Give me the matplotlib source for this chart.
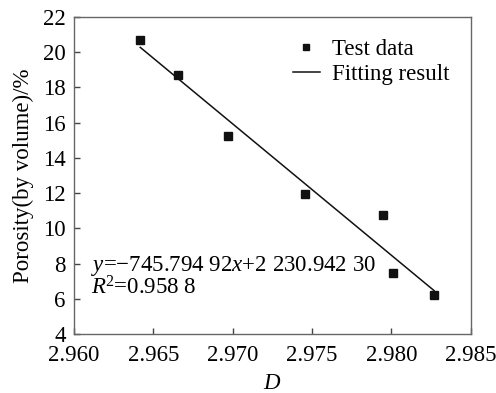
import matplotlib
matplotlib.use("Agg")
import matplotlib.pyplot as plt
import numpy as np

plt.rcParams['font.family'] = ['Liberation Serif', 'DejaVu Serif']
plt.rcParams['mathtext.fontset'] = 'custom'
plt.rcParams['mathtext.rm'] = 'Liberation Serif'
plt.rcParams['mathtext.it'] = 'Liberation Serif:italic'

# data
D_values = [2.96418, 2.96657, 2.96972, 2.97455, 2.97948, 2.98011, 2.98269]
porosity = [20.69, 18.71, 15.24, 11.93, 10.78, 7.48, 6.21]
slope = -745.79492
intercept = 2230.94230
fit_range = [2.96418, 2.98269]
x_ticks = [2.960, 2.965, 2.970, 2.975, 2.980, 2.985]
y_ticks = [4, 6, 8, 10, 12, 14, 16, 18, 20, 22]

FS = 16.5
fig = plt.figure(figsize=(4.96, 3.93), dpi=100)
ax = fig.add_axes([0.149, 0.150, 0.800, 0.807])

ax.plot(D_values, porosity, 's', color='#111111', markersize=6, label='Test data', zorder=3)
xf = np.array(fit_range)
ax.plot(xf, slope * xf + intercept, '-', color='#111111', lw=1.1, label='Fitting result')

ax.set_xlim(2.960, 2.985)
ax.set_ylim(4, 22)
ax.set_xticks(x_ticks)
ax.set_xticklabels([f"{t:.3f}" for t in x_ticks])
ax.set_yticks(y_ticks)
ax.tick_params(direction='in', length=4.3, labelsize=FS, color='#444444', width=1)
ax.tick_params(axis='x', pad=8)
ax.tick_params(axis='y', pad=6)
for s in ax.spines.values():
    s.set_color('#666666')
    s.set_linewidth(1.0)

ax.set_xlabel('$D$', fontsize=FS, labelpad=5)
ax.set_ylabel('Porosity(by volume)/%', fontsize=FS, labelpad=6)

leg = ax.legend(loc='upper right', bbox_to_anchor=(0.98, 0.975), frameon=False,
                fontsize=FS, handlelength=1.2, handletextpad=0.5, labelspacing=0.2,
                borderaxespad=0.2, markerscale=0.8)

ax.text(0.043, 0.2, "$y$=\u2212745.794 92$x$+2 230.942 30", transform=ax.transAxes,
        fontsize=FS, ha='left', va='baseline')
ax.text(0.043, 0.125, "$R$$^{2}$=0.958 8", transform=ax.transAxes,
        fontsize=FS, ha='left', va='baseline')

fig.savefig('out.png', dpi=100)
